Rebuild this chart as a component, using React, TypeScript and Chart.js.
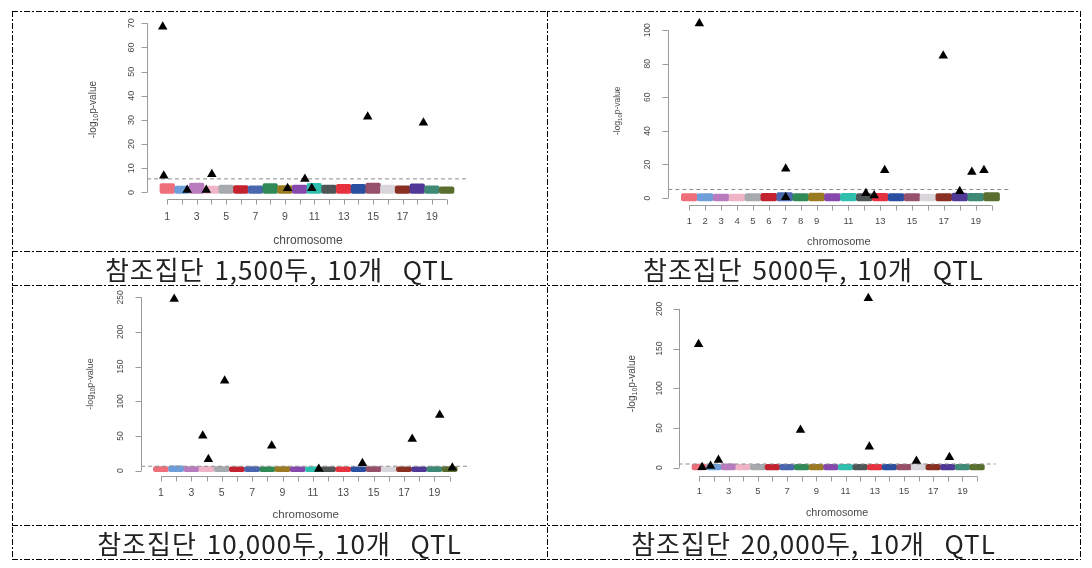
import React, { useEffect, useRef } from 'react';
import { Chart, registerables } from 'chart.js';

Chart.register(...registerables);

// ---------------- data ----------------
const chromosomes = [1, 2, 3, 4, 5, 6, 7, 8, 9, 10, 11, 12, 13, 14, 15, 16, 17, 18, 19, 20];
const chromosomeColors = [
  '#EE6E7A', '#6E9FDA', '#B77BBE', '#EFB5C6', '#A6A9AD', '#C4222E', '#4A66AE', '#2F8A56', '#9A7B22', '#8748AE',
  '#2FBFAF', '#4F5656', '#E6323E', '#2A4FA0', '#975069', '#D9D6DB', '#8A3022', '#4F3896', '#3F8977', '#5A6F2F',
];

const captions = [
  '참조집단 1,500두, 10개  QTL',
  '참조집단 5000두, 10개  QTL',
  '참조집단 10,000두, 10개  QTL',
  '참조집단 20,000두, 10개  QTL',
];

const xAxisTitle = 'chromosome';
const yAxisTitleParts = ['-log', '10', 'p-value'];

// panel 1 : 1,500
const qtlPos1 = [0.69, 0.76, 2.35, 3.65, 4.03, 9.18, 10.36, 10.83, 14.63, 18.42];
const qtlLogP1 = [68.6, 6.9, 1.0, 1.0, 7.5, 1.7, 5.5, 1.7, 31.3, 28.8];
const bandTop1 = [3.6, 2.6, 3.9, 2.6, 3.0, 2.8, 2.7, 3.6, 2.8, 3.0, 3.8, 3.0, 3.3, 3.3, 3.9, 3.0, 2.7, 3.5, 2.7, 2.3];
const bandBase1 = -0.4;
const threshold1 = 5.6;
const yTicks1 = [0, 10, 20, 30, 40, 50, 60, 70];
const xTickLabels1 = ['1', '', '3', '', '5', '', '7', '', '9', '', '11', '', '13', '', '15', '', '17', '', '19', ''];

// panel 2 : 5000
const qtlPos2 = [1.63, 7.06, 7.06, 12.1, 12.62, 13.28, 16.96, 18.0, 18.76, 19.52];
const qtlLogP2 = [104.0, 17.4, 0.5, 2.8, 1.5, 16.5, 84.8, 4.0, 15.5, 16.5];
const bandTop2 = [2.6, 2.6, 2.4, 2.4, 2.6, 2.8, 3.2, 2.6, 3.0, 2.6, 2.8, 2.6, 2.8, 2.6, 2.6, 2.4, 2.6, 3.0, 2.8, 3.2];
const bandBase2 = -1.7;
const threshold2 = 5.1;
const yTicks2 = [0, 20, 40, 60, 80, 100];
const xTickLabels2 = ['1', '2', '3', '4', '5', '6', '7', '8', '9', '', '11', '', '13', '', '15', '', '17', '', '19', ''];

// panel 3 : 10,000
const qtlPos3 = [1.87, 3.75, 4.12, 5.19, 8.29, 11.39, 14.26, 17.54, 19.35, 20.18];
const qtlLogP3 = [247.6, 50.5, 16.4, 129.8, 36, 2.5, 10.7, 45.7, 80.3, 4.3];
const bandTop3 = [6.0, 7.0, 6.0, 6.5, 6.0, 5.5, 6.0, 5.5, 6.0, 5.5, 5.5, 5.5, 5.5, 5.5, 6.0, 5.5, 5.5, 5.5, 6.0, 6.0];
const bandBase3 = -1.4;
const threshold3 = 6.5;
const yTicks3 = [0, 50, 100, 150, 200, 250];
const xTickLabels3 = ['1', '', '3', '', '5', '', '7', '', '9', '', '11', '', '13', '', '15', '', '17', '', '19', ''];

// panel 4 : 20,000
const qtlPos4 = [0.95, 1.19, 1.77, 2.31, 7.92, 12.56, 12.63, 15.85, 18.11];
const qtlLogP4 = [155.4, 0.5, 2.1, 9.7, 47.5, 213.3, 26.4, 8.4, 13.1];
const bandTop4 = [4.5, 4.3, 5.0, 4.3, 4.3, 4.3, 4.3, 4.3, 4.3, 4.3, 4.3, 4.3, 4.3, 4.3, 4.3, 5.0, 4.3, 4.3, 4.3, 4.3];
const bandBase4 = -2.9;
const threshold4 = 4.7;
const yTicks4 = [0, 50, 100, 150, 200];
const xTickLabels4 = ['1', '', '3', '', '5', '', '7', '', '9', '', '11', '', '13', '', '15', '', '17', '', '19', ''];

// ---------------- layout / style ----------------
const panels = [
  {
    qtlPos: qtlPos1, qtlLogP: qtlLogP1, bandTop: bandTop1, bandBase: bandBase1, threshold: threshold1,
    yTicks: yTicks1, xTickLabels: xTickLabels1,
    box: { left: 12, top: 11, width: 535, height: 240 },
    padding: { left: 135, top: 9.2, right: 78, bottom: 52 },
    xRange: [-0.38, 21.52], yRange: [-2.74, 71.3],
    yLabelDx: 16, xLabelDy: 18, xTitleDy: 41, yTitleDx: 54.7,
    yTickSize: 9, xTickSize: 10.5, xTitleSize: 12, yTitleSize: 10,
  },
  {
    qtlPos: qtlPos2, qtlLogP: qtlLogP2, bandTop: bandTop2, bandBase: bandBase2, threshold: threshold2,
    yTicks: yTicks2, xTickLabels: xTickLabels2,
    box: { left: 547, top: 11, width: 533, height: 240 },
    padding: { left: 121.3, top: 1.2, right: 70.6, bottom: 46 },
    xRange: [-0.32, 21.12], yRange: [-4.16, 108.2],
    yLabelDx: 21, xLabelDy: 16, xTitleDy: 36.7, yTitleDx: 50.9,
    yTickSize: 8.5, xTickSize: 9.5, xTitleSize: 11, yTitleSize: 8.5,
  },
  {
    qtlPos: qtlPos3, qtlLogP: qtlLogP3, bandTop: bandTop3, bandBase: bandBase3, threshold: threshold3,
    yTicks: yTicks3, xTickLabels: xTickLabels3,
    box: { left: 12, top: 285, width: 535, height: 240 },
    padding: { left: 129.1, top: 7.1, right: 76.6, bottom: 49 },
    xRange: [-0.31, 21.37], yRange: [-7.6, 257.5],
    yLabelDx: 21, xLabelDy: 16.3, xTitleDy: 38.3, yTitleDx: 51.2,
    yTickSize: 8.5, xTickSize: 10.5, xTitleSize: 11.5, yTitleSize: 9,
  },
  {
    qtlPos: qtlPos4, qtlLogP: qtlLogP4, bandTop: bandTop4, bandBase: bandBase4, threshold: threshold4,
    yTicks: yTicks4, xTickLabels: xTickLabels4,
    box: { left: 547, top: 285, width: 533, height: 240 },
    padding: { left: 131.7, top: 6.6, right: 84.5, bottom: 49.5 },
    xRange: [-0.41, 21.26], yRange: [-9.8, 221.8],
    yLabelDx: 19.4, xLabelDy: 14.5, xTitleDy: 36.2, yTitleDx: 47,
    yTickSize: 8.5, xTickSize: 9.5, xTitleSize: 10.8, yTitleSize: 10,
  },
];

const captionBoxes = [
  { left: 12, top: 251, width: 535, height: 34 },
  { left: 547, top: 251, width: 533, height: 34 },
  { left: 12, top: 525, width: 535, height: 34 },
  { left: 547, top: 525, width: 533, height: 34 },
];

const gridH = [11, 251, 285, 525, 559];
const gridV = [12, 547, 1080];

const AXIS_COLOR = '#9a9a9a';
const TEXT_COLOR = '#4a4a4a';
const FONT = '"Liberation Sans", Arial, sans-serif';

// R style axes drawn from the chart scales
const rAxesPlugin = {
  id: 'rAxes',
  afterDraw(chart: any, _args: any, opts: any) {
    const p = opts.panel;
    if (!p) return;
    const { ctx, chartArea } = chart;
    const xs = chart.scales.x;
    const ys = chart.scales.y;
    ctx.save();
    ctx.strokeStyle = AXIS_COLOR;
    ctx.lineWidth = 1;
    ctx.fillStyle = TEXT_COLOR;

    // y axis
    const left = Math.round(chartArea.left) + 0.5;
    const yA = ys.getPixelForValue(p.yTicks[0]);
    const yB = ys.getPixelForValue(p.yTicks[p.yTicks.length - 1]);
    ctx.beginPath();
    ctx.moveTo(left, yA);
    ctx.lineTo(left, yB);
    p.yTicks.forEach((t: number) => {
      const py = Math.round(ys.getPixelForValue(t)) + 0.5;
      ctx.moveTo(left, py);
      ctx.lineTo(left - 6, py);
    });
    ctx.stroke();
    ctx.font = `${p.yTickSize}px ${FONT}`;
    ctx.textAlign = 'center';
    ctx.textBaseline = 'middle';
    p.yTicks.forEach((t: number) => {
      const py = ys.getPixelForValue(t);
      ctx.save();
      ctx.translate(left - p.yLabelDx, py);
      ctx.rotate(-Math.PI / 2);
      ctx.fillText(String(t), 0, 0);
      ctx.restore();
    });

    // x axis
    const bottom = Math.round(chartArea.bottom) + 0.5;
    const xA = xs.getPixelForValue(chromosomes[0]);
    const xB = xs.getPixelForValue(chromosomes[chromosomes.length - 1]);
    ctx.beginPath();
    ctx.moveTo(xA, bottom);
    ctx.lineTo(xB, bottom);
    chromosomes.forEach((c) => {
      const px = Math.round(xs.getPixelForValue(c)) + 0.5;
      ctx.moveTo(px, bottom);
      ctx.lineTo(px, bottom + 5);
    });
    ctx.stroke();
    ctx.font = `${p.xTickSize}px ${FONT}`;
    chromosomes.forEach((c, i) => {
      const label = p.xTickLabels[i];
      if (label) ctx.fillText(label, xs.getPixelForValue(c), bottom + p.xLabelDy);
    });

    // titles
    ctx.font = `${p.xTitleSize}px ${FONT}`;
    ctx.fillText(xAxisTitle, (chartArea.left + chartArea.right) / 2, bottom + p.xTitleDy);

    const f = p.yTitleSize;
    ctx.save();
    ctx.translate(left - p.yTitleDx, (chartArea.top + chartArea.bottom) / 2);
    ctx.rotate(-Math.PI / 2);
    ctx.textAlign = 'left';
    ctx.font = `${f}px ${FONT}`;
    const w1 = ctx.measureText(yAxisTitleParts[0]).width;
    const w3 = ctx.measureText(yAxisTitleParts[2]).width;
    ctx.font = `${f * 0.7}px ${FONT}`;
    const w2 = ctx.measureText(yAxisTitleParts[1]).width;
    let x0 = -(w1 + w2 + w3) / 2;
    ctx.font = `${f}px ${FONT}`;
    ctx.fillText(yAxisTitleParts[0], x0, 0);
    x0 += w1;
    ctx.font = `${f * 0.7}px ${FONT}`;
    ctx.fillText(yAxisTitleParts[1], x0, f * 0.3);
    x0 += w2;
    ctx.font = `${f}px ${FONT}`;
    ctx.fillText(yAxisTitleParts[2], x0, 0);
    ctx.restore();

    ctx.restore();
  },
};

function Panel({ p }: { p: any }) {
  const ref = useRef<HTMLCanvasElement>(null);
  useEffect(() => {
    if (!ref.current) return;
    const chart = new Chart(ref.current, {
      type: 'scatter',
      data: {
        datasets: [
          {
            type: 'scatter',
            data: p.qtlPos.map((x: number, i: number) => ({ x, y: p.qtlLogP[i] })),
            pointStyle: 'triangle',
            pointRadius: 5.5,
            backgroundColor: '#000',
            borderColor: '#000',
            borderWidth: 0,
            clip: false,
            order: 0,
          } as any,
          {
            type: 'line',
            data: [
              { x: p.xRange[0], y: p.threshold },
              { x: p.xRange[1], y: p.threshold },
            ],
            borderColor: '#8c8c8c',
            borderWidth: 1,
            borderDash: [4, 3],
            pointRadius: 0,
            fill: false,
            clip: false,
            order: 1,
          } as any,
          {
            type: 'bar',
            data: chromosomes.map((c, i) => ({ x: c, y: [p.bandBase, p.bandTop[i]] })),
            backgroundColor: chromosomeColors,
            borderWidth: 0,
            borderRadius: 2,
            borderSkipped: false,
            barPercentage: 1,
            categoryPercentage: 1,
            clip: false,
            order: 2,
          } as any,
        ],
      },
      options: {
        animation: false,
        responsive: false,
        maintainAspectRatio: false,
        devicePixelRatio: 1,
        layout: { padding: p.padding },
        scales: {
          x: {
            type: 'linear',
            min: p.xRange[0],
            max: p.xRange[1],
            offset: false,
            display: false,
            grid: { offset: false },
            ticks: { stepSize: 1, includeBounds: false },
          },
          y: { type: 'linear', min: p.yRange[0], max: p.yRange[1], display: false },
        },
        plugins: {
          legend: { display: false },
          tooltip: { enabled: false },
          rAxes: { panel: p },
        } as any,
      },
      plugins: [rAxesPlugin],
    });
    return () => chart.destroy();
  }, [p]);
  return (
    <canvas
      ref={ref}
      width={p.box.width}
      height={p.box.height}
      style={{ position: 'absolute', left: p.box.left, top: p.box.top, width: p.box.width, height: p.box.height }}
    />
  );
}

export default function App() {
  return (
    <div style={{ position: 'absolute', left: 0, top: 0, width: 1092, height: 568, background: '#fff', overflow: 'hidden' }}>
      {panels.map((p, i) => (
        <Panel key={i} p={p} />
      ))}
      {captions.map((c, i) => (
        <div
          key={i}
          style={{
            position: 'absolute',
            left: captionBoxes[i].left,
            top: captionBoxes[i].top,
            width: captionBoxes[i].width,
            height: captionBoxes[i].height,
            display: 'flex',
            alignItems: 'center',
            justifyContent: 'center',
            fontFamily: '"Noto Sans CJK KR", sans-serif',
            fontSize: 26,
            color: '#222',
            whiteSpace: 'pre',
            wordSpacing: 3,
            letterSpacing: 1,
          }}
        >
          {c}
        </div>
      ))}
      <svg width={1092} height={568} style={{ position: 'absolute', left: 0, top: 0, pointerEvents: 'none' }}>
        {gridH.map((y, i) => (
          <line key={'h' + i} x1={gridV[0]} x2={gridV[2] + 1} y1={y + 0.5} y2={y + 0.5} stroke="#000" strokeWidth={1} strokeDasharray="6 2 2 2" />
        ))}
        {gridV.map((x, i) => (
          <line key={'v' + i} x1={x + 0.5} x2={x + 0.5} y1={gridH[0]} y2={gridH[4] + 1} stroke="#000" strokeWidth={1} strokeDasharray="6 2 2 2" />
        ))}
      </svg>
    </div>
  );
}
